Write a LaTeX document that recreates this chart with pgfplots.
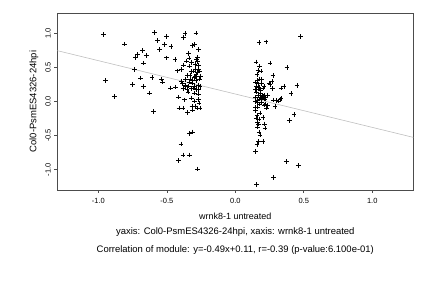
\documentclass[border=0pt]{standalone}
\usepackage{pgfplots}
\pgfplotsset{compat=1.18}
\usepackage{fontspec}
\setmainfont{Liberation Sans}
\begin{document}
\begin{tikzpicture}[x=1bp,y=1bp]
\path (0,0) rectangle (432,288);
\begin{axis}[
  at={(57.3bp,98bp)}, anchor=south west,
  scale only axis, width=356bp, height=177bp,
  xmin=-1.3, xmax=1.3, ymin=-1.3, ymax=1.3,
  xtick={-1,-0.5,0,0.5,1}, ytick={-1,-0.5,0,0.5,1},
  xtick pos=bottom, ytick pos=left, tick align=outside,
  major tick length=3bp,
  axis line style={black!70, line width=0.6pt},
  every tick/.style={black!70, line width=0.6pt},
  tick label style={font=\fontsize{7.5}{9}\selectfont},
  /pgf/number format/assume math mode=true,
  /pgf/number format/.cd, fixed, fixed zerofill, precision=1, /pgfplots/.cd,
  yticklabel style={rotate=90, anchor=south},
  xticklabel style={yshift=-2bp},
  ylabel={Col0-PsmES4326-24hpi},
  ylabel style={font=\fontsize{9.5}{11}\selectfont, at={(axis description cs:-0.0655,0.5)}, anchor=center},
  xlabel={wrnk8-1 untreated},
  xlabel style={font=\fontsize{9}{11}\selectfont, at={(axis description cs:0.5,0)}, anchor=center, yshift=-26bp},
  clip=true,
]
\addplot[black!25, line width=0.6pt] coordinates {(-1.3,0.747) (1.3,-0.527)};
\addplot[only marks, mark=+, mark size=2.3pt, mark options={line width=0.6pt}, black] coordinates {
(-0.961,0.985) (-0.949,0.309) (-0.883,0.074) (-0.810,0.843) (-0.735,0.471) (-0.752,0.250)
(-0.727,0.647) (-0.715,0.691) (-0.693,0.343) (-0.676,0.750) (-0.672,0.564) (-0.672,0.221)
(-0.650,0.676) (-0.628,0.123) (-0.608,0.353) (-0.599,-0.147) (-0.591,1.010) (-0.567,0.892)
(-0.552,0.765) (-0.538,0.328) (-0.533,0.284) (-0.518,0.838) (-0.504,0.956) (-0.504,0.642)
(-0.470,0.804) (-0.472,0.201) (-0.440,0.613) (-0.436,0.211) (-0.421,0.451) (-0.416,0.064)
(-0.411,-0.093) (-0.414,-0.868) (-0.397,-0.623) (-0.392,0.466) (-0.392,0.299) (-0.382,-0.784)
(-0.380,0.191) (-0.377,0.936) (-0.382,-0.098) (-0.380,0.539) (-0.372,0.025) (-0.367,0.995)
(-0.365,0.324) (-0.362,0.221) (-0.355,0.593) (-0.350,0.382) (-0.348,-0.162) (-0.343,0.701)
(-0.338,0.637) (-0.336,-0.784) (-0.336,0.284) (-0.333,0.520) (-0.333,-0.466) (-0.326,0.333)
(-0.321,0.569) (-0.321,0.191) (-0.319,0.049) (-0.316,-0.074) (-0.316,0.309) (-0.314,-0.446)
(-0.311,0.819) (-0.311,-0.127) (-0.307,0.446) (-0.307,0.201) (-0.299,0.833) (-0.297,0.005)
(-0.299,0.123) (-0.292,0.368) (-0.292,-0.064) (-0.290,0.480) (-0.287,0.309) (-0.287,1.005)
(-0.282,0.627) (-0.282,0.172) (-0.280,0.436) (-0.280,-0.093) (-0.277,-0.990) (-0.277,0.588)
(-0.273,0.245) (-0.270,0.529) (-0.268,0.760) (-0.268,0.029) (-0.265,-0.025) (-0.263,0.446)
(-0.263,0.328) (-0.258,-0.098) (-0.253,0.368) (-0.268,0.108)
(-0.385,0.260) (-0.340,0.230) (-0.318,0.440) (-0.294,0.540) (-0.277,0.650) (-0.311,0.270)
(-0.345,0.140) (-0.268,0.180) (-0.258,0.220) (-0.364,0.235) (-0.300,0.350) (-0.286,0.400)
(-0.330,0.390) (-0.352,0.180) (-0.300,0.230) (-0.270,0.470)
(0.477,0.956) (0.174,0.863) (0.225,0.877) (0.152,0.583) (0.254,0.564) (0.377,0.500)
(0.176,0.520) (0.188,0.446) (0.166,0.456) (0.274,0.382) (0.178,0.333) (0.191,0.319)
(0.267,0.294) (0.247,0.270) (0.254,0.250) (0.450,0.235) (0.357,0.221) (0.333,0.201)
(0.271,0.191) (0.154,0.221) (0.166,0.181) (0.183,0.162) (0.408,0.118) (0.210,0.221)
(0.213,0.088) (0.222,0.064) (0.149,0.064) (0.161,0.015) (0.276,0.020) (0.298,0.015)
(0.315,0.005) (0.335,0.044) (0.325,0.029) (0.178,-0.034) (0.215,-0.049) (0.161,-0.083)
(0.227,-0.098) (0.291,-0.074) (0.181,-0.167) (0.430,-0.191) (0.152,-0.245) (0.203,-0.235)
(0.394,-0.279) (0.161,-0.304) (0.213,-0.328) (0.218,-0.392) (0.161,-0.377) (0.174,-0.451)
(0.181,-0.490) (0.169,-0.588) (0.203,-0.588) (0.159,-0.632) (0.149,-0.735) (0.372,-0.882)
(0.460,-0.941) (0.279,-1.113) (0.156,-1.221)
(0.149,0.172) (0.154,0.137) (0.169,0.098) (0.186,0.064) (0.198,0.049) (0.218,0.034)
(0.161,-0.010) (0.178,0.034) (0.147,0.284) (0.159,0.309) (0.166,0.260) (0.203,0.078)
(0.210,0.039) (0.222,-0.034) (0.235,-0.059) (0.147,-0.132) (0.157,-0.206) (0.174,-0.255)
(0.169,-0.328) (0.149,-0.083) (0.196,0.088) (0.186,0.123) (0.174,0.211) (0.193,0.260)
(0.203,0.201) (0.159,0.400) (0.149,0.000) (0.193,-0.010) (0.235,0.098)
};
\end{axis}
\node[font=\fontsize{9.5}{11}\selectfont] at (235.3,56) {yaxis: Col0-PsmES4326-24hpi, xaxis: wrnk8-1 untreated};
\node[font=\fontsize{9.5}{11}\selectfont] at (235.3,38) {Correlation of module: y=-0.49x+0.11, r=-0.39 (p-value:6.100e-01)};
\end{tikzpicture}
\end{document}
